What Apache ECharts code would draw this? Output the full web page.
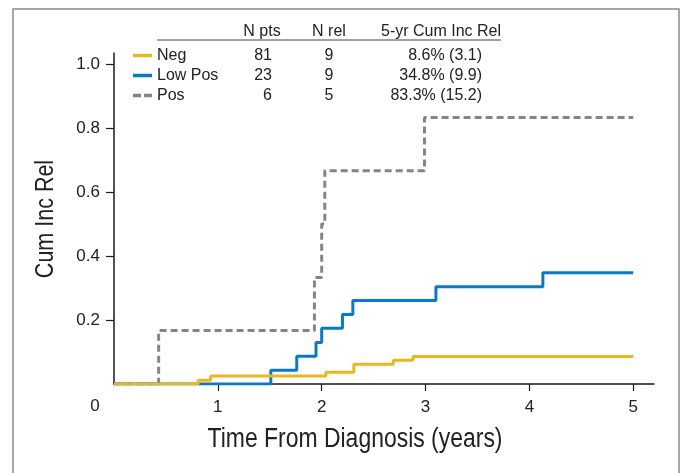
<!DOCTYPE html>
<html><head><meta charset="utf-8">
<script src="https://cdn.jsdelivr.net/npm/echarts@6/dist/echarts.min.js"></script>
<style>html,body{margin:0;padding:0;background:#fff}#c{width:681px;height:473px}</style>
</head><body><div id="c"></div>
<script>
// ---- data ----
const seriesNames = ['Neg', 'Low Pos', 'Pos'];
const negTimes  = [0, 0.81, 0.93, 2.04, 2.31, 2.69, 2.88, 5.0];
const negValues = [0, 0.012, 0.025, 0.037, 0.062, 0.074, 0.086, 0.086];
const lowTimes  = [0, 1.51, 1.76, 1.945, 2.0, 2.2, 2.3, 3.1, 4.13, 5.0];
const lowValues = [0, 0.043, 0.087, 0.13, 0.174, 0.217, 0.261, 0.304, 0.348, 0.348];
const posTimes  = [0, 0.43, 1.93, 2.0, 2.03, 2.99, 5.0];
const posValues = [0, 0.167, 0.333, 0.5, 0.667, 0.833, 0.833];
const nPts = ['81', '23', '6'];
const nRel = ['9', '9', '5'];
const cumInc = ['8.6% (3.1)', '34.8% (9.9)', '83.3% (15.2)'];
const tableHeaders = ['N pts', 'N rel', '5-yr Cum Inc Rel'];
const yTicks = [0.2, 0.4, 0.6, 0.8, 1.0];
const xTicks = [1, 2, 3, 4, 5];
const xTitle = 'Time From Diagnosis (years)';
const yTitle = 'Cum Inc Rel';

const FONT = "'Liberation Sans', Arial, sans-serif";
const TXT = '#222';
const colors = ['#E9B820', '#0A7BC1', '#858585'];
const zip = (t, v) => t.map((x, i) => [x, v[i]]);
const seriesData = [zip(negTimes, negValues), zip(lowTimes, lowValues), zip(posTimes, posValues)];

const chart = echarts.init(document.getElementById('c'), null, {renderer: 'canvas'});

const graphic = [
  {type: 'rect', shape: {x: 13, y: 9, width: 666, height: 480}, style: {fill: 'none', stroke: '#8a8a8a', lineWidth: 1.5}, silent: true},
  {type: 'text', x: 95, y: 406, style: {text: '0', font: "17px " + FONT, fill: TXT, align: 'center', verticalAlign: 'middle'}},
  {type: 'text', x: 355, y: 440, scaleX: 0.85, style: {text: xTitle, font: "27px " + FONT, fill: TXT, align: 'center', verticalAlign: 'middle'}},
  {type: 'text', x: 46, y: 219, rotation: Math.PI / 2, scaleX: 0.86, style: {text: yTitle, font: "25px " + FONT, fill: TXT, align: 'center', verticalAlign: 'middle'}},
  {type: 'line', shape: {x1: 157, y1: 40, x2: 501, y2: 40}, style: {stroke: '#444', lineWidth: 1}},
  {type: 'text', x: 262, y: 32, style: {text: tableHeaders[0], font: "16px " + FONT, fill: TXT, align: 'center', verticalAlign: 'middle'}},
  {type: 'text', x: 329, y: 32, style: {text: tableHeaders[1], font: "16px " + FONT, fill: TXT, align: 'center', verticalAlign: 'middle'}},
  {type: 'text', x: 501, y: 32, style: {text: tableHeaders[2], font: "16px " + FONT, fill: TXT, align: 'right', verticalAlign: 'middle'}}
];
const rowY = [55.5, 75.5, 95.5];
seriesNames.forEach((name, i) => {
  graphic.push({type: 'line', shape: {x1: 133, y1: rowY[i], x2: 152, y2: rowY[i]},
    style: {stroke: colors[i], lineWidth: 3.5, lineDash: i === 2 ? [8, 3] : null}});
  graphic.push({type: 'text', x: 157, y: rowY[i], style: {text: name, font: "16px " + FONT, fill: TXT, verticalAlign: 'middle'}});
  graphic.push({type: 'text', x: 272, y: rowY[i], style: {text: nPts[i], font: "16px " + FONT, fill: TXT, align: 'right', verticalAlign: 'middle'}});
  graphic.push({type: 'text', x: 329, y: rowY[i], style: {text: nRel[i], font: "16px " + FONT, fill: TXT, align: 'center', verticalAlign: 'middle'}});
  graphic.push({type: 'text', x: 482, y: rowY[i], style: {text: cumInc[i], font: "16px " + FONT, fill: TXT, align: 'right', verticalAlign: 'middle'}});
});

chart.setOption({
  animation: false,
  backgroundColor: '#fff',
  grid: {left: 114, right: 27, top: 53, bottom: 89, containLabel: false},
  xAxis: {
    type: 'value', min: 0, max: 5.2,
    axisLine: {show: true, lineStyle: {color: '#1a1a1a', width: 1.5}},
    axisTick: {show: true, length: 7, customValues: xTicks, lineStyle: {color: '#1a1a1a', width: 1.2}},
    axisLabel: {customValues: xTicks, fontSize: 17, fontFamily: FONT, color: TXT, margin: 15},
    splitLine: {show: false}
  },
  yAxis: {
    type: 'value', min: 0, max: 1.035,
    axisLine: {show: true, lineStyle: {color: '#1a1a1a', width: 1.5}},
    axisTick: {show: true, length: 8, customValues: yTicks, lineStyle: {color: '#1a1a1a', width: 1.2}},
    axisLabel: {customValues: yTicks, formatter: v => v.toFixed(1), fontSize: 17, fontFamily: FONT, color: TXT, margin: 14},
    splitLine: {show: false}
  },
  series: seriesNames.map((name, i) => ({
    name, type: 'line', step: 'end', data: seriesData[i], showSymbol: false, symbol: 'none',
    lineStyle: {color: colors[i], width: 3, type: i === 2 ? [7, 4] : 'solid'},
    z: 3 - i
  })),
  graphic
});
</script></body></html>
